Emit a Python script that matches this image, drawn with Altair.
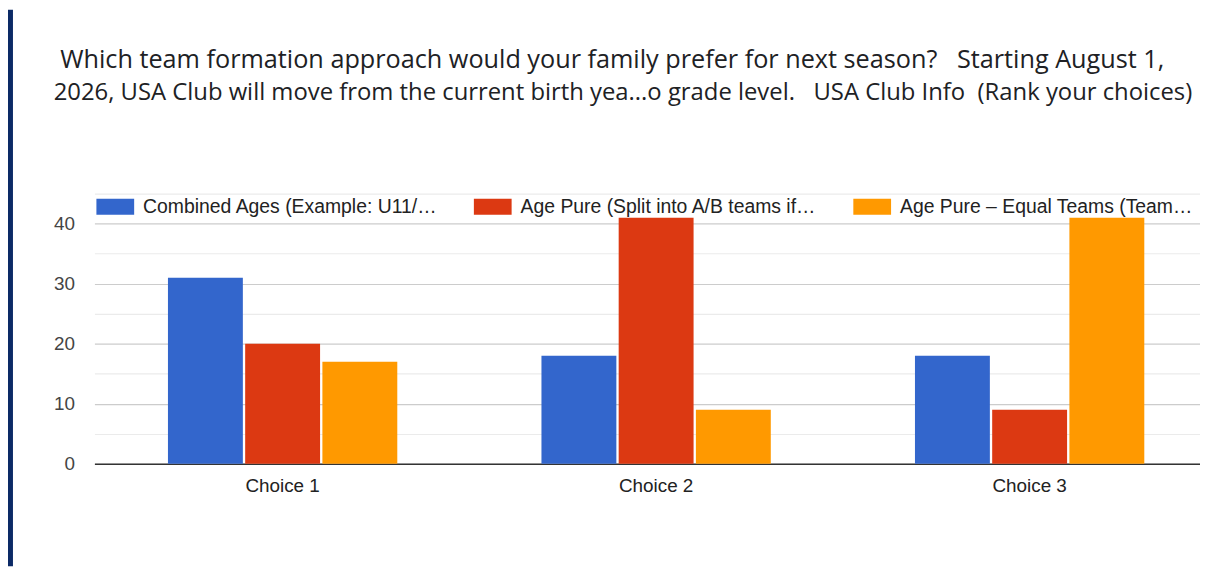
import altair as alt
import pandas as pd

choices = ["Choice 1", "Choice 2", "Choice 3"]
series = [
    "Combined Ages (Example: U11/…",
    "Age Pure (Split into A/B teams if…",
    "Age Pure – Equal Teams (Team…",
]
combined_ages = [31, 18, 18]
age_pure_split = [20, 41, 9]
age_pure_equal = [17, 9, 41]
colors = ["#3366cc", "#dc3912", "#ff9900"]
y_ticks = [0, 5, 10, 15, 20, 25, 30, 35, 40, 45]
title_line1 = "\u200b\u00a0Which team formation approach would your family prefer for next season?\u00a0\u00a0 Starting August 1,"
title_line2 = "2026, USA Club will move from the current birth yea...o grade level.\u00a0\u00a0 USA Club Info\u00a0 (Rank your choices)"

rows = []
for s, vals in zip(series, [combined_ages, age_pure_split, age_pure_equal]):
    for c, v in zip(choices, vals):
        rows.append({"choice": c, "series": s, "value": v})
df = pd.DataFrame(rows)

NAVY = "#0c2a66"
FONT = "Liberation Sans"

bars = alt.Chart(df).mark_bar().encode(
    x=alt.X(
        "choice:N",
        sort=choices,
        scale=alt.Scale(paddingInner=0.386, paddingOuter=0.173, align=0.569),
        axis=alt.Axis(
            title=None, labelAngle=0, ticks=False, domain=True, domainColor="#333333",
            domainWidth=1.5, labelFont=FONT, labelFontSize=19, labelColor="#222222",
            labelPadding=13, grid=False,
        ),
    ),
    xOffset=alt.XOffset("series:N", sort=series, scale=alt.Scale(paddingInner=0.03)),
    y=alt.Y(
        "value:Q",
        scale=alt.Scale(domain=[0, 45], nice=False),
        axis=alt.Axis(
            title=None, values=y_ticks, ticks=False, domain=False,
            labelExpr="datum.value % 10 === 0 ? datum.label : ''",
            gridColor={"expr": "datum.value % 10 === 0 ? '#cccccc' : '#ebebeb'"},
            gridWidth=1.2,
            labelFont=FONT, labelFontSize=19, labelColor="#444444", labelPadding=20,
        ),
    ),
    color=alt.Color(
        "series:N",
        sort=series,
        scale=alt.Scale(domain=series, range=colors),
        legend=alt.Legend(
            title=None, orient="none", legendX=2, legendY=-6, direction="horizontal",
            columns=3, columnPadding=36, symbolType="M-1,-0.421H1V0.421H-1Z",
            symbolSize=1444, symbolStrokeWidth=0, labelOffset=9, labelFont=FONT,
            labelFontSize=19.5, labelColor="#222222", labelLimit=500,
        ),
    ),
)

strip = alt.Chart(pd.DataFrame({"k": [0]})).mark_rect(color=NAVY).encode(
    x=alt.value(-87), x2=alt.value(-82), y=alt.value(-185), y2=alt.value(375)
)

chart = alt.layer(strip, bars).properties(
    width=1113,
    height=272,
    autosize=alt.AutoSizeParams(type="none"),
    padding={"left": 87, "top": 185, "right": 0, "bottom": 103},
    background="white",
    title=alt.TitleParams(
        text=title_line1, subtitle=title_line2, anchor="start", frame="group",
        font="Open Sans", fontSize=25.4, fontWeight="normal", color="#202124",
        subtitleFont="Open Sans", subtitleFontSize=24, subtitleColor="#202124",
        subtitleFontWeight="normal", subtitlePadding=8, dx=-41, offset=-96,
    ),
).configure_view(stroke=None)

chart.save("out.html", embed_options={"renderer": "svg", "actions": False})
